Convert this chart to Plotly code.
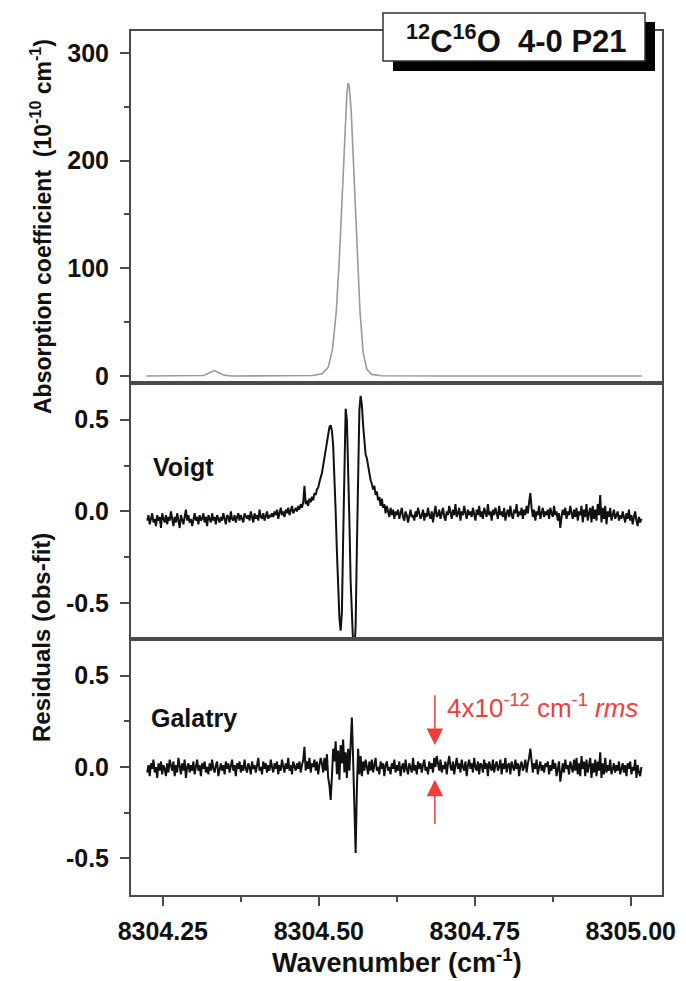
import numpy as np
import plotly.graph_objects as go

# ---------------- data ----------------
ABS_WN = [8304.223, 8304.30, 8304.315, 8304.325, 8304.333, 8304.340, 8304.348, 8304.36,
          8304.45, 8304.49, 8304.505, 8304.515, 8304.522, 8304.528, 8304.533, 8304.538,
          8304.542, 8304.545, 8304.547, 8304.549, 8304.552, 8304.556, 8304.561, 8304.566,
          8304.571, 8304.577, 8304.585, 8304.60, 8304.70, 8305.018]
ABS_VAL = [0, 0, 0.5, 3, 5, 3, 0.8, 0,
           0, 0.5, 2, 8, 25, 60, 110, 170,
           230, 262, 272, 268, 245, 190, 120, 60,
           22, 6, 1.5, 0.3, 0, 0]

WN_START = 8304.225
WN_STEP = 0.002

VOIGT_RES = [
    -0.05, -0.02, -0.07, -0.03, -0.01, -0.06, -0.04, -0.08, -0.02, -0.05, -0.03, -0.09, -0.01, -0.04, -0.06, -0.02, -0.07, -0.03, -0.05, 0.00,
    -0.04, -0.08, -0.03, -0.06, -0.01, -0.05, -0.09, -0.02, -0.04, -0.07, -0.03, 0.01, -0.05, -0.02, -0.06, -0.04, -0.08, -0.03, -0.01, -0.05,
    -0.03, -0.07, -0.02, -0.05, -0.04, -0.01, -0.06, -0.03, -0.08, -0.02, -0.04, -0.06, -0.01, -0.05, -0.03, -0.07, -0.02, -0.04, -0.06, -0.03,
    -0.05, -0.01, -0.04, -0.07, -0.02, -0.03, -0.06, 0.00, -0.04, -0.05, -0.02, -0.06, -0.03, -0.01, -0.05, -0.02, -0.04, -0.06, -0.01, -0.03,
    -0.04, -0.02, -0.05, 0.00, -0.03, -0.06, -0.01, -0.04, -0.02, -0.05, 0.01, -0.03, -0.04, -0.01, -0.05, -0.02, 0.00, -0.04, -0.02, -0.03,
    -0.01, -0.03, 0.00, -0.02, 0.01, -0.04, -0.01, 0.02, -0.02, 0.00, -0.03, 0.01, -0.01, 0.02, -0.02, 0.00, 0.03, -0.01, 0.01, 0.02,
    0.00, 0.03, 0.01, 0.04, 0.02, 0.05, 0.14, 0.04, 0.06, 0.03, 0.07, 0.05, 0.08, 0.06, 0.10, 0.09, 0.12, 0.13, 0.16, 0.18,
    0.21, 0.25, 0.29, 0.34, 0.38, 0.43, 0.46, 0.47, 0.44, 0.36, 0.20, 0.00, -0.22, -0.43, -0.58, -0.65, -0.55, -0.15, 0.30, 0.56,
    0.50, 0.28, -0.05, -0.38, -0.60, -0.72, -0.78, -0.62, -0.20, 0.25, 0.55, 0.63, 0.58, 0.47, 0.38, 0.31, 0.29, 0.24, 0.22, 0.17,
    0.15, 0.12, 0.14, 0.09, 0.11, 0.06, 0.08, 0.03, 0.07, 0.02, 0.04, -0.01, 0.03, 0.00, -0.03, 0.02, -0.02, 0.01, -0.04, 0.00,
    -0.02, 0.01, -0.04, -0.01, 0.02, -0.03, -0.05, 0.00, -0.02, -0.06, -0.01, 0.01, -0.03, -0.02, -0.05, 0.00, -0.03, 0.02, -0.01, -0.04,
    -0.02, 0.01, -0.05, -0.01, -0.03, 0.02, -0.02, -0.04, 0.00, -0.06, -0.01, 0.03, -0.03, -0.02, 0.01, -0.04, -0.01, 0.02, -0.03, -0.05,
    0.00, -0.02, 0.03, -0.01, -0.04, 0.01, -0.02, 0.04, -0.03, -0.01, 0.02, -0.05, 0.00, -0.02, 0.03, -0.01, -0.04, 0.01, -0.02, 0.00,
    -0.03, 0.02, -0.01, -0.05, 0.01, -0.02, 0.03, -0.03, 0.00, -0.04, 0.02, -0.01, -0.03, 0.04, -0.02, 0.00, -0.05, 0.01, -0.02, 0.02,
    -0.01, -0.04, 0.03, -0.02, 0.00, -0.03, 0.02, -0.05, -0.01, 0.01, -0.03, 0.03, -0.02, -0.04, 0.01, -0.01, 0.04, -0.03, 0.00, -0.02,
    0.02, -0.04, 0.01, -0.02, 0.03, -0.01, 0.05, 0.10, 0.02, -0.03, 0.01, -0.05, 0.00, -0.02, 0.03, -0.04, -0.01, 0.02, -0.03, 0.00,
    -0.02, 0.01, -0.04, 0.02, -0.01, -0.03, 0.03, -0.02, 0.00, -0.05, -0.01, -0.09, -0.03, 0.01, -0.02, 0.02, -0.04, 0.00, -0.02, 0.03,
    -0.01, -0.04, 0.01, -0.03, 0.02, -0.05, 0.00, -0.02, 0.03, -0.06, 0.01, -0.03, 0.04, -0.05, -0.01, 0.02, -0.06, 0.03, -0.04, 0.01,
    -0.05, 0.04, -0.02, 0.09, -0.06, 0.02, -0.04, 0.03, -0.07, 0.00, -0.03, 0.02, -0.05, -0.01, 0.01, -0.04, -0.02, 0.00, -0.05, -0.02,
    -0.04, 0.00, -0.03, -0.06, -0.01, -0.04, 0.01, -0.05, -0.02, -0.07, -0.03, 0.00, -0.05, -0.08, -0.03, -0.06, -0.04,
]

GALATRY_RES = [
    -0.03, 0.01, -0.05, 0.02, -0.01, 0.04, -0.03, 0.00, -0.06, 0.02, -0.02, 0.03, -0.04, 0.01, -0.01, -0.05, 0.02, -0.03, 0.04, 0.00,
    -0.02, 0.03, -0.05, 0.01, -0.03, 0.05, -0.01, -0.04, 0.02, -0.02, 0.04, -0.06, 0.00, 0.02, -0.03, 0.01, -0.02, 0.03, -0.04, 0.01,
    0.04, -0.02, 0.01, -0.05, 0.02, -0.01, 0.03, -0.03, 0.00, -0.04, 0.02, -0.02, 0.04, -0.01, -0.03, 0.01, 0.03, -0.05, 0.00, 0.02,
    -0.02, 0.01, -0.04, 0.03, -0.01, 0.02, -0.03, 0.00, 0.04, -0.02, 0.01, -0.05, 0.02, -0.01, 0.03, -0.03, 0.01, -0.02, 0.04, -0.01,
    -0.03, 0.02, 0.00, -0.04, 0.03, -0.01, 0.01, -0.03, 0.02, 0.05, -0.02, 0.00, -0.04, 0.03, -0.01, 0.02, -0.03, 0.01, -0.02, 0.04,
    0.00, -0.03, 0.02, -0.01, 0.03, -0.04, 0.01, -0.02, 0.04, 0.00, -0.03, 0.02, -0.01, 0.05, -0.02, 0.01, -0.04, 0.03, 0.00, -0.02,
    0.02, -0.01, 0.03, -0.03, 0.01, 0.04, 0.11, -0.02, 0.03, -0.01, 0.05, -0.03, 0.02, 0.00, 0.04, -0.02, 0.03, -0.04, 0.01, 0.05,
    0.02, -0.03, 0.05, -0.02, 0.07, -0.06, -0.10, -0.18, -0.05, 0.10, 0.03, 0.14, -0.04, 0.09, -0.07, 0.12, 0.02, 0.15, -0.03, 0.08,
    -0.06, 0.10, -0.02, 0.12, 0.27, 0.04, -0.22, -0.47, -0.12, 0.10, -0.04, 0.06, -0.05, 0.03, -0.02, 0.04, 0.00, -0.04, 0.03, -0.02,
    0.04, -0.03, 0.01, 0.05, -0.02, 0.00, -0.04, 0.03, -0.01, 0.02, -0.05, 0.01, 0.03, -0.02, 0.00, -0.04, 0.02, -0.01, 0.04, -0.03,
    0.01, -0.02, 0.03, -0.05, 0.00, 0.02, -0.03, 0.04, -0.01, -0.04, 0.02, 0.00, -0.03, 0.05, -0.02, 0.01, -0.04, 0.03, -0.01, 0.02,
    -0.03, 0.01, 0.04, -0.02, 0.00, -0.04, 0.03, -0.01, 0.02, -0.03, 0.05, 0.00, 0.06, 0.02, -0.02, 0.04, -0.03, 0.01, -0.01, 0.03,
    -0.04, 0.02, 0.06, 0.00, -0.02, 0.03, -0.04, 0.01, 0.05, -0.01, 0.02, -0.03, 0.04, 0.00, -0.02, 0.03, -0.05, 0.01, 0.04, -0.01,
    0.02, -0.03, 0.05, 0.00, -0.02, 0.03, -0.04, 0.02, 0.01, -0.03, 0.04, -0.01, 0.02, -0.05, 0.03, 0.00, -0.02, 0.04, -0.03, 0.01,
    0.03, -0.02, 0.00, 0.04, -0.04, 0.02, -0.01, 0.05, -0.03, 0.01, 0.02, -0.04, 0.03, 0.00, -0.02, 0.04, -0.01, 0.02, -0.05, 0.01,
    0.03, -0.02, 0.00, 0.04, -0.03, 0.02, 0.05, 0.10, 0.01, -0.03, 0.02, -0.01, 0.04, -0.04, 0.00, 0.03, -0.02, 0.01, -0.03, 0.02,
    0.00, 0.03, -0.04, 0.01, -0.02, 0.04, -0.01, 0.02, -0.05, 0.00, 0.03, -0.08, -0.02, 0.02, -0.03, 0.04, -0.01, 0.01, -0.04, 0.03,
    0.00, -0.03, 0.04, -0.02, 0.05, -0.04, 0.02, -0.05, 0.06, -0.01, 0.03, -0.05, 0.04, -0.03, 0.01, 0.05, -0.06, 0.02, -0.03, 0.04,
    -0.05, 0.03, -0.02, 0.08, -0.06, 0.02, -0.04, 0.05, -0.03, 0.01, -0.02, 0.04, -0.04, 0.00, 0.02, -0.03, 0.01, -0.02, 0.03, -0.04,
    0.00, 0.02, -0.03, 0.01, -0.05, 0.02, -0.01, 0.03, -0.04, 0.00, -0.02, 0.04, -0.06, 0.01, -0.03, -0.05, 0.00,
]

X_TICKS = [8304.25, 8304.50, 8304.75, 8305.00]
X_TICK_TEXT = ["8304.25", "8304.50", "8304.75", "8305.00"]
X_MINOR = [8304.375, 8304.625, 8304.875]
ABS_TICKS = [0, 100, 200, 300]
RES_TICKS = [-0.5, 0.0, 0.5]
RES_TICK_TEXT = ["-0.5", "0.0", "0.5"]

RMS_WN = 8304.686
RMS_UP_TIP, RMS_UP_TAIL = 0.12, 0.40
RMS_LO_TIP, RMS_LO_TAIL = -0.07, -0.32

wn_res = WN_START + WN_STEP * np.arange(len(VOIGT_RES))

# ---------------- figure ----------------
FONT = "Liberation Sans, Arial, sans-serif"
AX = "#4a4a4a"
XR = [8304.199, 8305.050]
ML, MR, MT, MB = 123, 32, 23, 94
PW, PH = 686 - ML - MR, 981 - MT - MB

fig = go.Figure()
fig.add_trace(go.Scatter(x=ABS_WN, y=ABS_VAL, mode="lines", line=dict(color="#9a9a9a", width=1.6),
                         xaxis="x", yaxis="y", showlegend=False))
fig.add_trace(go.Scatter(x=wn_res, y=VOIGT_RES, mode="lines", line=dict(color="#111111", width=2.0),
                         xaxis="x2", yaxis="y2", showlegend=False))
fig.add_trace(go.Scatter(x=wn_res, y=GALATRY_RES, mode="lines", line=dict(color="#111111", width=2.0),
                         xaxis="x3", yaxis="y3", showlegend=False))

tickfont = dict(family=FONT, size=25, color="#111", weight="bold")
common_x = dict(range=XR, showline=True, linecolor=AX, linewidth=2, mirror=True,
                showgrid=False, zeroline=False)
minor_style = dict(ticks="outside", ticklen=5, tickwidth=1.6, tickcolor=AX)
common_y = dict(showline=True, linecolor=AX, linewidth=2, mirror=True, showgrid=False,
                zeroline=False, ticks="outside", ticklen=9, tickwidth=1.6, tickcolor=AX,
                tickfont=tickfont, ticklabelstandoff=6)

d3 = 256 / PH
d2 = (256 + 256) / PH

fig.update_layout(
    width=686, height=981,
    margin=dict(l=ML, r=MR, t=MT, b=MB),
    paper_bgcolor="white", plot_bgcolor="white",
    xaxis=dict(**common_x, domain=[0, 1], anchor="y", showticklabels=False, ticks=""),
    xaxis2=dict(**common_x, domain=[0, 1], anchor="y2", showticklabels=False, ticks=""),
    xaxis3=dict(**common_x, domain=[0, 1], anchor="y3", ticks="outside", ticklen=9, tickwidth=1.6,
                tickcolor=AX, tickvals=X_TICKS, ticktext=X_TICK_TEXT, tickfont=tickfont,
                ticklabelstandoff=4, minor=dict(**minor_style, tickvals=X_MINOR)),
    yaxis=dict(**common_y, domain=[d2, 1], range=[-6.5, 320.4], tickvals=ABS_TICKS,
               minor=dict(**minor_style, dtick=50)),
    yaxis2=dict(**common_y, domain=[d3, d2], range=[-0.695, 0.70], tickvals=RES_TICKS,
                ticktext=RES_TICK_TEXT, minor=dict(**minor_style, dtick=0.25)),
    yaxis3=dict(**common_y, domain=[0, d3], range=[-0.70, 0.70], tickvals=RES_TICKS,
                ticktext=RES_TICK_TEXT, minor=dict(**minor_style, dtick=0.25)),
)


def px2x(p):
    return (p - ML) / PW


def px2y(p):
    return (981 - MB - p) / PH


# title box with drop shadow
fig.add_shape(type="rect", xref="paper", yref="paper", x0=px2x(385), x1=px2x(647),
              y0=px2y(63), y1=px2y(14), fillcolor="black", line=dict(width=0), layer="above")
fig.add_shape(type="rect", xref="paper", yref="paper", x0=px2x(375), x1=px2x(637),
              y0=px2y(53), y1=px2y(5), fillcolor="white", line=dict(color="#333", width=1.5),
              layer="above")

annotations = [
    dict(text="<sup>12</sup>C<sup>16</sup>O  4-0 P21", xref="paper", yref="paper",
         x=px2x(508), y=px2y(31), showarrow=False,
         font=dict(family=FONT, size=31, color="#111", weight="bold"),
         xanchor="center", yanchor="middle"),
    dict(text="Absorption coefficient  (10<sup>-10</sup> cm<sup>-1</sup>)", xref="paper", yref="paper",
         x=px2x(33), y=px2y(219), textangle=-90, showarrow=False,
         font=dict(family=FONT, size=23, color="#111", weight="bold"),
         xanchor="center", yanchor="middle"),
    dict(text="Residuals (obs-fit)", xref="paper", yref="paper",
         x=px2x(33), y=px2y(630), textangle=-90, showarrow=False,
         font=dict(family=FONT, size=24, color="#111", weight="bold"),
         xanchor="center", yanchor="middle"),
    dict(text="Wavenumber (cm<sup>-1</sup>)", xref="paper", yref="paper",
         x=0.5, y=px2y(953), showarrow=False,
         font=dict(family=FONT, size=27, color="#111", weight="bold"),
         xanchor="center", yanchor="middle"),
    dict(text="Voigt", xref="x2", yref="y2", x=8304.231, y=0.24, showarrow=False,
         font=dict(family=FONT, size=25, color="#111", weight="bold"),
         xanchor="left", yanchor="middle"),
    dict(text="Galatry", xref="x3", yref="y3", x=8304.228, y=0.27, showarrow=False,
         font=dict(family=FONT, size=25, color="#111", weight="bold"),
         xanchor="left", yanchor="middle"),
    dict(text="4x10<sup>-12</sup> cm<sup>-1</sup> <i>rms</i>", xref="x3", yref="y3",
         x=8304.703, y=0.33, showarrow=False,
         font=dict(family=FONT, size=26, color="#f23c3c"), xanchor="left", yanchor="middle"),
    dict(text="", xref="x3", yref="y3", axref="x3", ayref="y3", x=RMS_WN, y=RMS_UP_TIP,
         ax=RMS_WN, ay=RMS_UP_TAIL, showarrow=True, arrowhead=2, arrowsize=2.2, arrowwidth=1.5,
         arrowcolor="#f23c3c", standoff=0),
    dict(text="", xref="x3", yref="y3", axref="x3", ayref="y3", x=RMS_WN, y=RMS_LO_TIP,
         ax=RMS_WN, ay=RMS_LO_TAIL, showarrow=True, arrowhead=2, arrowsize=2.2, arrowwidth=1.5,
         arrowcolor="#f23c3c", standoff=0),
]
fig.update_layout(annotations=annotations)

fig.write_html("out.html")
